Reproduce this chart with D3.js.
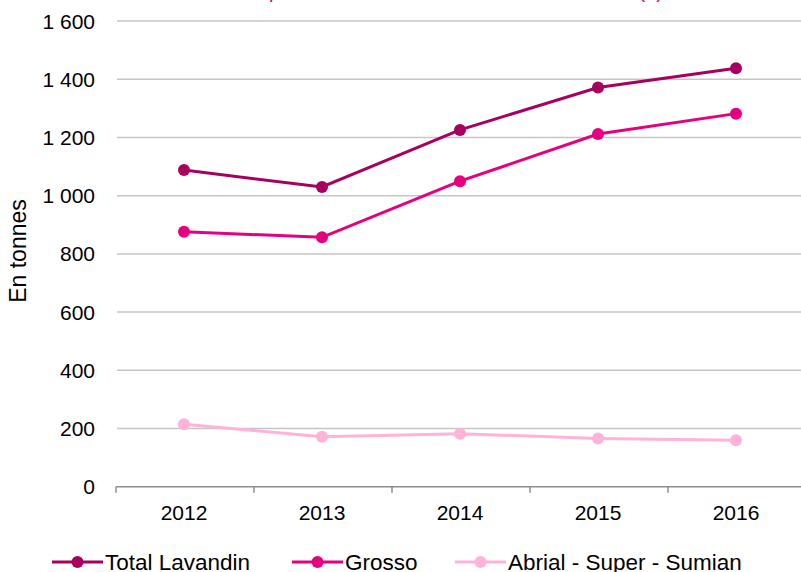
<!DOCTYPE html>
<html>
<head>
<meta charset="utf-8">
<script src="https://cdn.jsdelivr.net/npm/d3@7"></script>
<style>
  body { margin: 0; background: #fff; }
  svg { display: block; font-family: "Liberation Sans", Arial, sans-serif; }
</style>
</head>
<body>
<svg id="chart" width="801" height="572"></svg>
<script>
// data
const years = ["2012", "2013", "2014", "2015", "2016"];
const totalLavandin = [1088, 1030, 1226, 1372, 1438];
const grosso = [876, 857, 1050, 1212, 1282];
const abrial = [215, 172, 182, 166, 160];
const yTicks = [0, 200, 400, 600, 800, 1000, 1200, 1400, 1600];
const seriesNames = ["Total Lavandin", "Grosso", "Abrial - Super - Sumian"];
const seriesColors = ["#A8005F", "#E6007E", "#FFB3D9"];

const series = [totalLavandin, grosso, abrial].map((vals, i) => ({
  name: seriesNames[i],
  color: seriesColors[i],
  values: vals.map((v, j) => ({ year: years[j], value: v }))
}));

const svg = d3.select('#chart');
const width = 801, height = 572;

const x = d3.scaleBand().domain(years).range([115, 805]);
const y = d3.scaleLinear().domain([0, 1600]).range([486.7, 21.1]);

// title, mostly above the visible area (cut off like in the source)
svg.append('text')
  .attr('x', 663)
  .attr('y', -2)
  .attr('text-anchor', 'end')
  .style('font-size', '20px')
  .style('fill', '#E6007E')
  .text("Évolution de la production d'huile essentielle de lavandin (1)");

// gridlines
svg.append('g')
  .selectAll('line')
  .data(yTicks.filter(d => d > 0))
  .enter().append('line')
  .attr('x1', 117).attr('x2', width)
  .attr('y1', d => y(d)).attr('y2', d => y(d))
  .style('stroke', '#C6C6C6')
  .style('stroke-width', 1.5);

// y labels
svg.append('g')
  .selectAll('text')
  .data(yTicks)
  .enter().append('text')
  .attr('x', 95)
  .attr('y', d => y(d))
  .attr('dy', '0.36em')
  .attr('text-anchor', 'end')
  .style('font-size', '21px')
  .style('fill', '#000')
  .text(d => d3.format(',')(d).replace(',', ' '));

// x axis
const xAxis = svg.append('g');
xAxis.append('line')
  .attr('x1', 116).attr('x2', width)
  .attr('y1', y(0)).attr('y2', y(0))
  .style('stroke', '#8C8C8C')
  .style('stroke-width', 1.5);
xAxis.selectAll('line.tick')
  .data(years.concat(['end']))
  .enter().append('line')
  .attr('class', 'tick')
  .attr('x1', (d, i) => x.range()[0] + i * x.step() + 1)
  .attr('x2', (d, i) => x.range()[0] + i * x.step() + 1)
  .attr('y1', y(0)).attr('y2', y(0) + 6)
  .style('stroke', '#8C8C8C')
  .style('stroke-width', 1.5);
xAxis.selectAll('text')
  .data(years)
  .enter().append('text')
  .attr('x', d => x(d) + x.bandwidth() / 2)
  .attr('y', 520)
  .attr('text-anchor', 'middle')
  .style('font-size', '21px')
  .text(d => d);

// y title
svg.append('text')
  .attr('transform', 'translate(26,251) rotate(-90)')
  .attr('text-anchor', 'middle')
  .style('font-size', '23px')
  .text('En tonnes');

// lines
const line = d3.line()
  .x(d => x(d.year) + x.bandwidth() / 2)
  .y(d => y(d.value));

const sg = svg.selectAll('g.series')
  .data(series.slice().reverse())
  .enter().append('g')
  .attr('class', 'series');
sg.append('path')
  .attr('d', d => line(d.values))
  .style('fill', 'none')
  .style('stroke', d => d.color)
  .style('stroke-width', 3);
sg.selectAll('circle')
  .data(d => d.values.map(v => Object.assign({ color: d.color }, v)))
  .enter().append('circle')
  .attr('cx', d => x(d.year) + x.bandwidth() / 2)
  .attr('cy', d => y(d.value))
  .attr('r', 6)
  .style('fill', d => d.color);

// legend
const legendX = [52, 292, 455];
const lg = svg.selectAll('g.legend')
  .data(series)
  .enter().append('g')
  .attr('class', 'legend')
  .attr('transform', (d, i) => 'translate(' + legendX[i] + ',562)');
lg.append('line')
  .attr('x1', 0).attr('x2', 51)
  .style('stroke', d => d.color)
  .style('stroke-width', 3);
lg.append('circle')
  .attr('cx', 25.5).attr('r', 6)
  .style('fill', d => d.color);
lg.append('text')
  .attr('x', 53)
  .attr('dy', '0.36em')
  .style('font-size', '22.5px')
  .text(d => d.name);
</script>
</body>
</html>
